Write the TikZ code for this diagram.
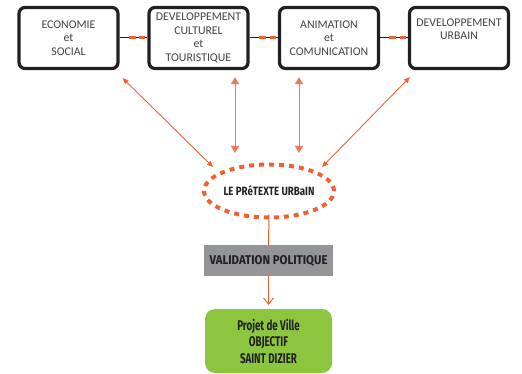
\documentclass[tikz,border=0pt]{standalone}
\usepackage{fontspec}
\setmainfont{Carlito}
\newfontfamily\condfont{Fira Sans}
\usetikzlibrary{arrows.meta, positioning, shapes.geometric, calc}
\definecolor{orangecolor}{RGB}{241, 96, 50}
\definecolor{greencolor}{RGB}{140, 198, 63}
\definecolor{greycolor}{RGB}{147, 149, 152}
\definecolor{inkcolor}{RGB}{35, 31, 32}
\tikzset{
  theme/.style={draw=inkcolor, line width=3.2pt, rounded corners=6pt, minimum width=99pt,
    minimum height=61pt, align=center, font=\fontsize{11.8}{13.5}\selectfont, text=inkcolor!85},
  lien/.style={draw=inkcolor, line width=1pt},
  tiret/.style={draw=orangecolor, line width=3pt},
  fleche/.style={draw=orangecolor, line width=0.9pt, {Triangle[length=6pt,width=5pt]}-{Triangle[length=6pt,width=5pt]}},
  flechev/.style={draw=orangecolor!85, line width=1pt, {Triangle[length=7pt,width=8pt]}-{Triangle[length=7pt,width=8pt]}}
}
\begin{document}
\begin{tikzpicture}[x=1pt, y=-1pt]
  \useasboundingbox (0,0) rectangle (522,374);

  % the four themes
  \node[theme] (eco) at (68.5,38) {ECONOMIE\\et\\SOCIAL};
  \node[theme] (dev) at (198.5,38) {DEVELOPPEMENT\\CULTUREL\\et\\TOURISTIQUE};
  \node[theme] (anim) at (329,38) {ANIMATION\\et\\COMUNICATION};
  \node[theme] (urb) at (459,38) {DEVELOPPEMENT\\URBAIN\\\strut};

  % links between the themes
  \foreach \a/\b in {eco/dev, dev/anim, anim/urb} {
    \draw[lien] (\a.east) -- (\b.west);
    \draw[tiret] ([xshift=9]\a.east) -- ++(7,0);
    \draw[tiret] ([xshift=-8]\b.west) -- ++(6,0);
  }

  % the pretext
  \node[ellipse, draw=orangecolor, line width=4pt, dash pattern=on 5pt off 5pt,
    minimum width=130pt, minimum height=53pt, inner sep=0pt] (pretexte) at (269,191)
    {\resizebox{91pt}{10pt}{\condfont\bfseries\color{inkcolor}LE PRéTEXTE URBaIN}};

  \coordinate (t1) at (213,167);
  \coordinate (t2) at (235,153);
  \coordinate (t3) at (299,153);
  \coordinate (t4) at (322,167);

  \draw[fleche] ([shift={(3,8)}]eco.south east) -- (t1);
  \draw[flechev] ([shift={(36.5,7)}]dev.south) -- (t2);
  \draw[flechev] ([shift={(-30,7)}]anim.south) -- (t3);
  \draw[fleche] ([shift={(2,7)}]urb.south west) -- (t4);

  % validation and goal
  \node[fill=greycolor, minimum width=129pt, minimum height=31pt, text=inkcolor] (valid) at (268.5,260.5)
    {\condfont\bfseries\resizebox{118pt}{9pt}{VALIDATION POLITIQUE}};
  \node[fill=greencolor, rounded corners=10pt, minimum width=127pt, minimum height=64pt, align=center,
    font=\condfont\bfseries\fontsize{14}{16.5}\selectfont, text=inkcolor] (projet) at (268.5,341)
    {\scalebox{0.7}[1]{Projet de Ville}\\\scalebox{0.7}[1]{OBJECTIF}\\\scalebox{0.7}[1]{SAINT DIZIER}};

  \draw[orangecolor, line width=1pt] ([yshift=5]pretexte.south) -- (valid.north);
  \draw[orangecolor, line width=1pt, -{Straight Barb[length=6pt,width=10pt]}, shorten >=4pt] (valid.south) -- (projet.north);
\end{tikzpicture}
\end{document}
